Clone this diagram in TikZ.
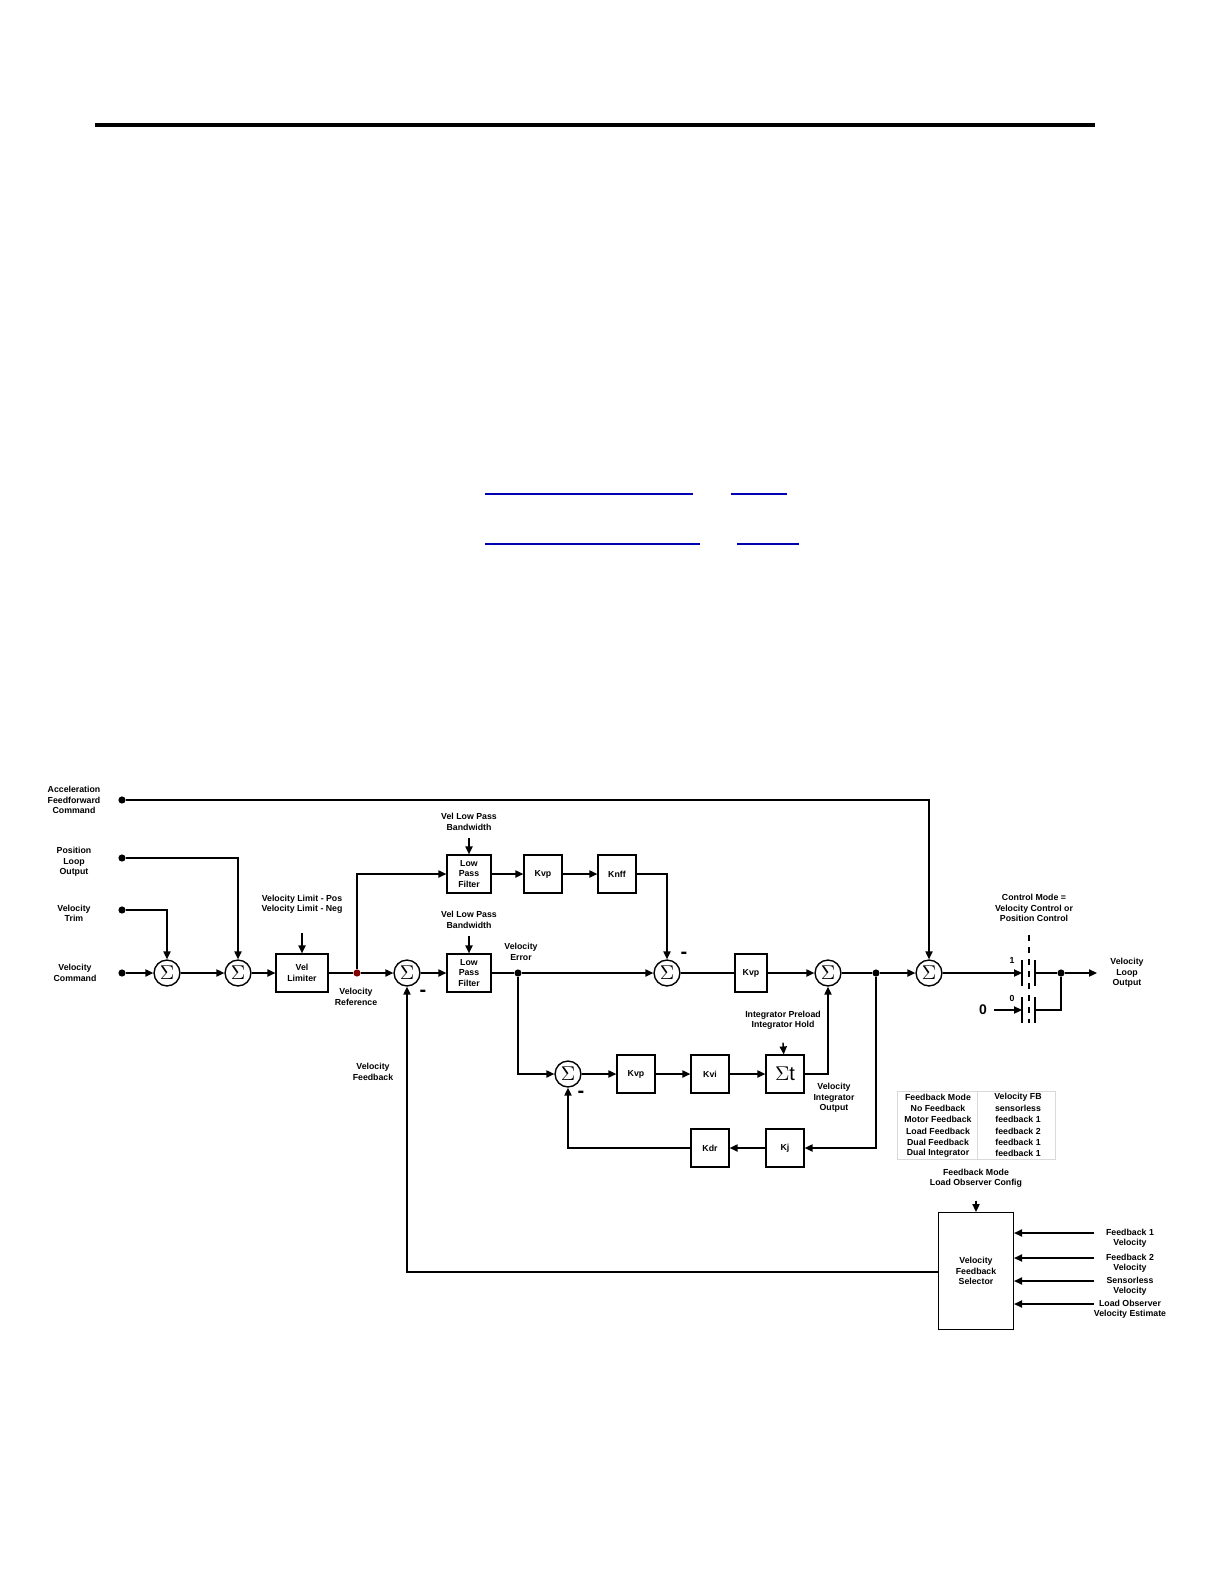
\documentclass[tikz,border=0pt]{standalone}
\usepackage{fontspec}
\setmainfont{Liberation Sans}
\usetikzlibrary{arrows.meta}
\begin{document}
\begin{tikzpicture}[x=0.5bp,y=-0.5bp,line width=0.7pt,
    >={Triangle[length=4pt,width=3.6pt]},
    every node/.style={font=\fontsize{4.4}{5.2}\selectfont\bfseries, align=center},
    sum/.style={draw, circle, minimum size=13pt, inner sep=0pt, font=\normalsize},
    blk/.style={draw, minimum width=19pt, minimum height=19pt, inner sep=1pt},
    dot/.style={circle, fill, inner sep=0pt, minimum size=3.6pt},
    cell/.style={font=\fontsize{4.4}{5}\selectfont\bfseries}]
    \useasboundingbox (0,0) rectangle (1224,1584);

    % page rule and links
    \draw[line width=2pt] (95,125) -- (1095,125);
    \draw[blue!70!black, line width=0.6pt] (485,494) -- (693,494) (731,494) -- (787,494);
    \draw[blue!70!black, line width=0.6pt] (485,544) -- (700,544) (737,544) -- (799,544);

    % inputs
    \node[dot] (acc) at (122,800) {};
    \node[dot] (pos) at (122,858) {};
    \node[dot] (trim) at (122,910) {};
    \node[dot] (cmd) at (122,973) {};
    \node (accL) at (74,800) {Acceleration\\Feedforward\\Command};
    \node (posL) at (74,862) {Position\\Loop\\Output};
    \node (trimL) at (74,913) {Velocity\\Trim};
    \node (cmdL) at (75,973) {Velocity\\Command};

    % main row
    \node[sum] (s1) at (167,973) {$\Sigma$};
    \node[sum] (s2) at (238,973) {$\Sigma$};
    \node[blk, minimum width=26pt] (lim) at (302,973) {Vel\\Limiter};
    \node[dot, fill=red!50!black] (vref) at (357,973) {};
    \node[sum] (s3) at (407,973) {$\Sigma$};
    \node[blk, minimum width=22pt] (lpf) at (469,973) {Low\\Pass\\Filter};
    \node[dot] (verr) at (518,973) {};
    \node[sum] (s4) at (667,973) {$\Sigma$};
    \node[blk, minimum width=16pt] (kvpa) at (751,973) {Kvp};
    \node[sum] (s5) at (828,973) {$\Sigma$};
    \node[dot] (vint) at (876,973) {};
    \node[sum] (s6) at (929,973) {$\Sigma$};
    \node[dot] (vout) at (1061,973) {};
    \coordinate (outEnd) at (1097,973);

    % upper row
    \node[blk, minimum width=22pt] (lpfu) at (469,874) {Low\\Pass\\Filter};
    \node[blk] (kvpu) at (543,874) {Kvp};
    \node[blk] (knff) at (617,874) {Knff};

    % lower rows
    \node[sum] (s7) at (568,1074) {$\Sigma$};
    \node[blk] (kvpl) at (636,1074) {Kvp};
    \node[blk] (kvi) at (710,1074) {Kvi};
    \node[blk, font=\normalsize] (sigt) at (785,1074) {$\Sigma$t};
    \node[blk] (kj) at (785,1148) {Kj};
    \node[blk] (kdr) at (710,1148) {Kdr};

    % feedback selector
    \node[draw, minimum width=37.5pt, minimum height=58.5pt] (sel) at (976,1271) {Velocity\\Feedback\\Selector};

    % labels
    \node (limL) at (302,904) {Velocity Limit - Pos\\Velocity Limit - Neg};
    \node (bwu) at (469,822) {Vel Low Pass\\Bandwidth};
    \node (bwl) at (469,920) {Vel Low Pass\\Bandwidth};
    \node (verrL) at (521,952) {Velocity\\Error};
    \node (vrefL) at (356,997) {Velocity\\Reference};
    \node (vfbL) at (373,1072) {Velocity\\Feedback};
    \node (intL) at (783,1020) {Integrator Preload\\Integrator Hold};
    \node (vintL) at (834,1098) {Velocity\\Integrator\\Output};
    \node (modeL) at (1034,908) {Control Mode =\\Velocity Control or\\Position Control};
    \node (voutL) at (1127,973) {Velocity\\Loop\\Output};
    \node (fbmL) at (976,1178) {Feedback Mode\\Load Observer Config};
    \node at (423,993) {\normalsize -};
    \node at (684,955) {\normalsize -};
    \node at (581,1094) {\normalsize -};
    \node (one) at (1012,960) {1};
    \node (zero) at (1012,998) {0};
    \node[font=\fontsize{7}{8}\selectfont\bfseries] (zin) at (983,1010) {0};

    % forward path
    \draw[->] (cmd) -- (s1);
    \draw[->] (trim) -| (s1);
    \draw[->] (s1) -- (s2);
    \draw[->] (pos) -| (s2);
    \draw[->] (s2) -- (lim);
    \draw (lim) -- (vref);
    \draw[->] (vref) -- (s3);
    \draw[->] (s3) -- (lpf);
    \draw (lpf) -- (verr);
    \draw[->] (verr) -- (s4);
    \draw[->] (vref) |- (lpfu);
    \draw[->] (lpfu) -- (kvpu);
    \draw[->] (kvpu) -- (knff);
    \draw[->] (knff) -| (s4);
    \draw (s4) -- (kvpa);
    \draw[->] (kvpa) -- (s5);
    \draw (s5) -- (vint);
    \draw[->] (vint) -- (s6);
    \draw[->] (acc) -| (s6);

    % integrator path
    \draw[->] (verr) |- (s7);
    \draw[->] (s7) -- (kvpl);
    \draw[->] (kvpl) -- (kvi);
    \draw[->] (kvi) -- (sigt);
    \draw[->] (sigt) -| (s5);
    \draw[->] (vint) |- (kj);
    \draw[->] (kj) -- (kdr);
    \draw[->] (kdr) -| (s7);

    % parameter inputs
    \draw[->] (limL.south) ++(0,12) -- (lim);
    \draw[->] (bwu) -- (lpfu);
    \draw[->] (bwl) -- (lpf);
    \draw[->] (intL.south) ++(0,6) -- (sigt);
    \draw[->] (fbmL.south) ++(0,6) -- (sel);

    % switch
    \coordinate (ca) at (1022,973);
    \coordinate (cb) at (1022,1010);
    \draw[->] (s6) -- (ca);
    \draw[->] (zin) -- (cb);
    \draw (1022,960) -- (1022,986) (1035,960) -- (1035,986);
    \draw (1022,997) -- (1022,1023) (1035,997) -- (1035,1023);
    \draw[dashed] (1029,935) -- (1029,1023);
    \draw (1035,973) -- (vout);
    \draw (1035,1010) -| (vout);
    \draw[->] (vout) -- (outEnd);

    % feedback
    \draw[->] (sel.west |- 0,1272) -| (s3);
    \foreach \yy/\txt in {1238/{Feedback 1\\Velocity}, 1263/{Feedback 2\\Velocity},
        1286/{Sensorless\\Velocity}, 1309/{Load Observer\\Velocity Estimate}} {
      \node (fbin) at (1130,\yy) {\txt};
      \draw[->] (1094,\yy-5) -- (sel.east |- 0,\yy-5);
    }

    % table
    \draw[gray!30, line width=0.4pt] (897,1091) grid[xstep=0, ystep=11.3] (1055,1159);
    \draw[gray!30, line width=0.4pt] (897,1091) rectangle (1055,1159) (977,1091) -- (977,1159);
    \foreach \i/\a/\b in {0/Feedback Mode/Velocity FB, 1/No Feedback/sensorless,
        2/Motor Feedback/feedback 1, 3/Load Feedback/feedback 2,
        4/Dual Feedback/feedback 1, 5/Dual Integrator/feedback 1} {
      \node[cell] (ta\i) at (938,1097+11.3*\i) {\a};
      \node[cell] (tb\i) at (1018,1097+11.3*\i) {\b};
    }
\end{tikzpicture}
\end{document}
